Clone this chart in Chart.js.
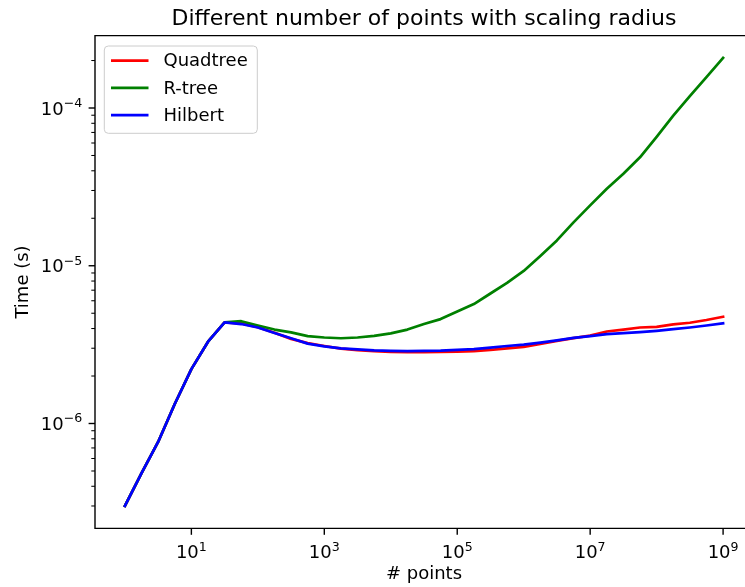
<!DOCTYPE html>
<html>
<head>
<meta charset="utf-8">
<script src="https://cdn.jsdelivr.net/npm/chart.js@4.4.1/dist/chart.umd.min.js"></script>
<style>
  html, body { margin: 0; padding: 0; background: #fff; overflow: hidden; }
  canvas { display: block; }
</style>
</head>
<body>
<canvas id="c" width="760" height="587"></canvas>
<script>
// ----- data: query time vs. number of points (radius scaled with n) -----
const nPoints = [1, 1.78, 3.16, 5.62, 10, 17.8, 31.6, 56.2, 100, 178, 316, 562,
  1e3, 1.78e3, 3.16e3, 5.62e3, 1e4, 1.78e4, 3.16e4, 5.62e4, 1e5, 1.78e5, 3.16e5, 5.62e5,
  1e6, 1.78e6, 3.16e6, 5.62e6, 1e7, 1.78e7, 3.16e7, 5.62e7, 1e8, 1.78e8, 3.16e8, 5.62e8, 1e9];

const quadtreeTime = [3.0e-7, 4.85e-7, 7.64e-7, 1.33e-6, 2.21e-6, 3.30e-6, 4.38e-6, 4.31e-6,
  4.08e-6, 3.76e-6, 3.44e-6, 3.235e-6, 3.10e-6, 2.985e-6, 2.92e-6, 2.877e-6, 2.845e-6, 2.836e-6,
  2.836e-6, 2.845e-6, 2.85e-6, 2.877e-6, 2.93e-6, 2.99e-6, 3.06e-6, 3.19e-6, 3.34e-6, 3.48e-6,
  3.61e-6, 3.83e-6, 3.94e-6, 4.06e-6, 4.10e-6, 4.25e-6, 4.35e-6, 4.53e-6, 4.75e-6];

const rtreeTime = [3.0e-7, 4.85e-7, 7.64e-7, 1.33e-6, 2.21e-6, 3.30e-6, 4.38e-6, 4.45e-6,
  4.18e-6, 3.94e-6, 3.78e-6, 3.58e-6, 3.51e-6, 3.47e-6, 3.51e-6, 3.59e-6, 3.73e-6, 3.94e-6,
  4.27e-6, 4.59e-6, 5.13e-6, 5.72e-6, 6.67e-6, 7.78e-6, 9.27e-6, 1.154e-5, 1.447e-5, 1.884e-5,
  2.415e-5, 3.075e-5, 3.83e-5, 4.87e-5, 6.57e-5, 8.94e-5, 1.188e-4, 1.569e-4, 2.077e-4];

const hilbertTime = [3.0e-7, 4.85e-7, 7.64e-7, 1.33e-6, 2.21e-6, 3.30e-6, 4.38e-6, 4.27e-6,
  4.06e-6, 3.745e-6, 3.47e-6, 3.21e-6, 3.08e-6, 2.99e-6, 2.95e-6, 2.906e-6, 2.886e-6, 2.877e-6,
  2.886e-6, 2.90e-6, 2.933e-6, 2.96e-6, 3.03e-6, 3.10e-6, 3.16e-6, 3.26e-6, 3.365e-6, 3.49e-6,
  3.58e-6, 3.69e-6, 3.745e-6, 3.80e-6, 3.87e-6, 3.96e-6, 4.06e-6, 4.18e-6, 4.315e-6];

const seriesNames = ['Quadtree', 'R-tree', 'Hilbert'];
const seriesColors = ['#ff0000', '#008000', '#0000ff'];
const xTickExps = [1, 3, 5, 7, 9];
const yTickExps = [-6, -5, -4];

const titleText = 'Different number of points with scaling radius';
const xLabel = '# points';
const yLabel = 'Time (s)';

// ----- helpers -----
const FONT = '"DejaVu Sans", sans-serif';
const toXY = ys => nPoints.map((x, i) => ({ x, y: ys[i] }));

// draws 10^e as base + superscript; align 'center' or 'right'
function drawPow(ctx, e, x, baseline, align) {
  const base = '10';
  const sup = e < 0 ? '\u2212' + Math.abs(e) : String(e);
  ctx.font = '18px ' + FONT;
  const wb = ctx.measureText(base).width;
  ctx.font = '12.6px ' + FONT;
  const ws = ctx.measureText(sup).width;
  const w = wb + ws;
  const x0 = align === 'right' ? x - w : x - w / 2;
  ctx.textAlign = 'left';
  ctx.textBaseline = 'alphabetic';
  ctx.font = '18px ' + FONT;
  ctx.fillText(base, x0, baseline);
  ctx.font = '12.6px ' + FONT;
  ctx.fillText(sup, x0 + wb, baseline - 7.5);
}

const mplFrame = {
  id: 'mplFrame',
  afterDraw(chart) {
    const { ctx, chartArea: a, scales } = chart;
    const xs = scales.x, ys = scales.y;
    ctx.save();
    ctx.fillStyle = '#000';
    ctx.strokeStyle = '#000';

    // spines (the right one falls past the visible page edge)
    ctx.lineWidth = 1.4;
    ctx.beginPath();
    ctx.moveTo(chart.width, a.top); ctx.lineTo(a.left, a.top);
    ctx.lineTo(a.left, a.bottom); ctx.lineTo(chart.width, a.bottom);
    ctx.stroke();

    // x ticks + labels
    xTickExps.forEach(e => {
      const px = xs.getPixelForValue(Math.pow(10, e));
      ctx.beginPath(); ctx.moveTo(px, a.bottom); ctx.lineTo(px, a.bottom + 6.4); ctx.stroke();
      drawPow(ctx, e, px, a.bottom + 30, 'center');
    });

    // y major ticks + labels
    yTickExps.forEach(e => {
      const py = ys.getPixelForValue(Math.pow(10, e));
      ctx.lineWidth = 1.4;
      ctx.beginPath(); ctx.moveTo(a.left - 6.4, py); ctx.lineTo(a.left, py); ctx.stroke();
      drawPow(ctx, e, a.left - 12.8, py + 6.5, 'right');
    });

    // y minor ticks
    ctx.lineWidth = 1.05;
    for (let d = -7; d <= -4; d++) {
      for (let m = 2; m <= 9; m++) {
        const v = m * Math.pow(10, d);
        if (v < ys.min || v > ys.max) continue;
        const py = ys.getPixelForValue(v);
        ctx.beginPath(); ctx.moveTo(a.left - 3.7, py); ctx.lineTo(a.left, py); ctx.stroke();
      }
    }

    // title and axis labels
    const cx = (a.left + a.right) / 2;
    ctx.textAlign = 'center';
    ctx.textBaseline = 'alphabetic';
    ctx.font = '22px ' + FONT;
    ctx.fillText(titleText, cx, 25);
    ctx.font = '18px ' + FONT;
    ctx.fillText(xLabel, cx, 579);
    ctx.save();
    ctx.translate(28, (a.top + a.bottom) / 2);
    ctx.rotate(-Math.PI / 2);
    ctx.fillText(yLabel, 0, 0);
    ctx.restore();

    // legend box
    const lx = 104.3, ly = 46, lw = 153, lh = 87.3, r = 4;
    ctx.beginPath();
    ctx.moveTo(lx + r, ly);
    ctx.arcTo(lx + lw, ly, lx + lw, ly + lh, r);
    ctx.arcTo(lx + lw, ly + lh, lx, ly + lh, r);
    ctx.arcTo(lx, ly + lh, lx, ly, r);
    ctx.arcTo(lx, ly, lx + lw, ly, r);
    ctx.closePath();
    ctx.fillStyle = 'rgba(255,255,255,0.8)';
    ctx.fill();
    ctx.lineWidth = 1;
    ctx.strokeStyle = '#cccccc';
    ctx.stroke();

    ctx.font = '18px ' + FONT;
    ctx.textAlign = 'left';
    ctx.textBaseline = 'middle';
    seriesNames.forEach((name, i) => {
      const y = 60.7 + i * 27.2;
      ctx.strokeStyle = seriesColors[i];
      ctx.lineWidth = 2.7;
      ctx.beginPath(); ctx.moveTo(111, y); ctx.lineTo(148.5, y); ctx.stroke();
      ctx.fillStyle = '#000';
      ctx.fillText(name, 163.5, y + 1);
    });
    ctx.restore();
  }
};

const seriesData = [quadtreeTime, rtreeTime, hilbertTime];

new Chart(document.getElementById('c'), {
  type: 'line',
  data: {
    datasets: seriesData.map((ys, i) => ({
      label: seriesNames[i],
      data: toXY(ys),
      borderColor: seriesColors[i],
      backgroundColor: seriesColors[i],
      borderWidth: 2.7,
      borderJoinStyle: 'round',
      borderCapStyle: 'square',
      pointRadius: 0,
      tension: 0,
      fill: false,
      order: 3 - i
    }))
  },
  options: {
    responsive: false,
    animation: false,
    devicePixelRatio: 1,
    layout: { padding: { top: 35.6, right: 7, left: 0, bottom: 0 } },
    plugins: {
      legend: { display: false },
      title: { display: false },
      tooltip: { enabled: false }
    },
    scales: {
      x: {
        type: 'logarithmic',
        min: Math.pow(10, -0.45),
        max: Math.pow(10, 9.45),
        grid: { display: false },
        border: { display: false },
        ticks: { display: false },
        afterFit(s) { s.height = 58.6; }
      },
      y: {
        type: 'logarithmic',
        min: Math.pow(10, -6.665),
        max: Math.pow(10, -3.541),
        grid: { display: false },
        border: { display: false },
        ticks: { display: false },
        afterFit(s) { s.width = 95; }
      }
    }
  },
  plugins: [mplFrame]
});
</script>
</body>
</html>
